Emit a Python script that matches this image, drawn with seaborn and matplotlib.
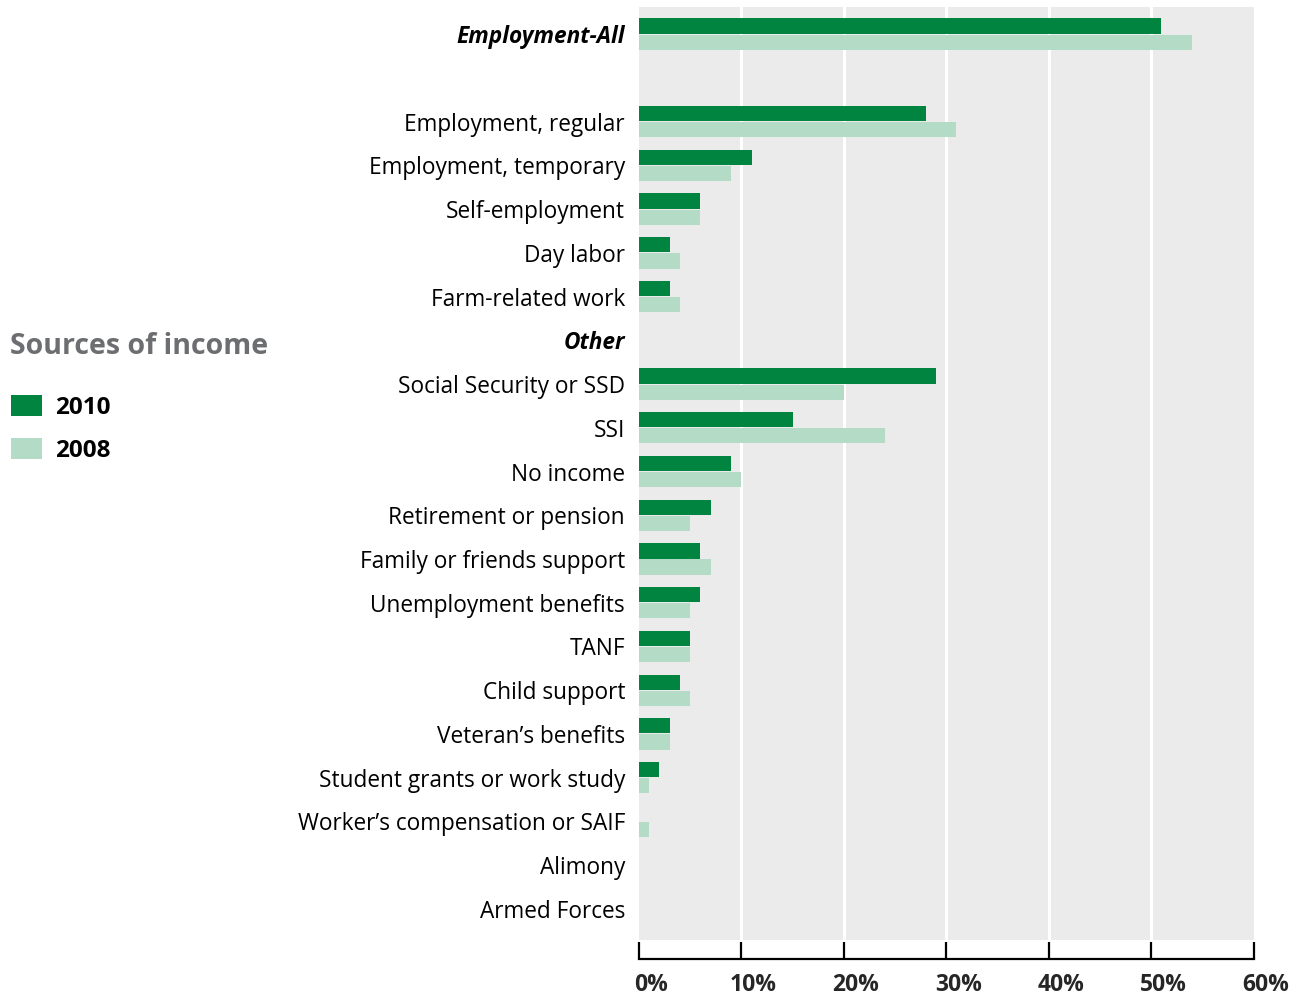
import matplotlib
matplotlib.use("Agg")
import matplotlib.pyplot as plt
import matplotlib.transforms as mtransforms
import seaborn as sns
import pandas as pd

categories = ["Employment-All", " ", "Employment, regular", "Employment, temporary",
              "Self-employment", "Day labor", "Farm-related work", "Other",
              "Social Security or SSD", "SSI", "No income", "Retirement or pension",
              "Family or friends support", "Unemployment benefits", "TANF",
              "Child support", "Veteran\u2019s benefits", "Student grants or work study",
              "Worker\u2019s compensation or SAIF", "Alimony", "Armed Forces"]
values_2010 = [51, 0, 28, 11, 6, 3, 3, 0, 29, 15, 9, 7, 6, 6, 5, 4, 3, 2, 0, 0, 0]
values_2008 = [54, 0, 31, 9, 6, 4, 4, 0, 20, 24, 10, 5, 7, 5, 5, 5, 3, 1, 1, 0, 0]
years = ["2010", "2008"]
xticks = [0, 10, 20, 30, 40, 50, 60]
xtick_labels = ["0%", "10%", "20%", "30%", "40%", "50%", "60%"]

df = pd.DataFrame({
    "category": categories * 2,
    "value": values_2010 + values_2008,
    "year": [years[0]] * len(categories) + [years[1]] * len(categories),
})

sns.set_theme(style="white")
plt.rcParams["font.family"] = ["Open Sans", "DejaVu Sans"]

W, H = 1300, 996
fig = plt.figure(figsize=(13, 9.96), dpi=100)
ax = fig.add_axes([639 / W, 1 - 940 / H, (1253.5 - 639) / W, (940 - 7) / H])
ax.set_facecolor("#ebebeb")

palette = {"2010": "#00843f", "2008": "#b3dbc5"}
sns.barplot(data=df, y="category", x="value", hue="year", order=categories,
            hue_order=years, palette=palette, orient="h", width=0.74, gap=0.06,
            saturation=1, linewidth=0, ax=ax, zorder=3)

ax.set_xlim(0, 60)
ax.set_ylim(20.71, -0.62)
ax.set_xlabel("")
ax.set_ylabel("")

for x in xticks[1:-1]:
    ax.axvline(x, color="white", lw=2.2, zorder=1)

for s in ["top", "right", "left"]:
    ax.spines[s].set_visible(False)
ax.spines["bottom"].set_position(("outward", 13.7))
ax.spines["bottom"].set_color("black")
ax.spines["bottom"].set_linewidth(1.6)
ax.spines["bottom"].set_bounds(0, 60)

ax.set_xticks(xticks)
ax.set_xticklabels(xtick_labels, fontsize=16.5, fontweight="bold")
ax.tick_params(axis="x", bottom=True, direction="in", length=12.2, width=1.6,
               color="black", pad=10)
off = mtransforms.ScaledTranslation(12 / 100, 0, fig.dpi_scale_trans)
for lab in ax.get_xticklabels():
    lab.set_transform(lab.get_transform() + off)

ax.tick_params(axis="y", left=False, length=0, pad=10, labelsize=16.3)
for lab in ax.get_yticklabels():
    lab.set_color("black")
    if lab.get_text() in ("Employment-All", "Other"):
        lab.set_fontweight("bold")
        lab.set_fontstyle("italic")

sns.move_legend(ax, loc="upper left", bbox_to_anchor=(11 / W, 1 - 395 / H),
                bbox_transform=fig.transFigure, frameon=False, title=None,
                fontsize=17.5, handlelength=1.28, handleheight=0.95,
                handletextpad=0.53, labelspacing=0.74, borderpad=0,
                borderaxespad=0)
leg = ax.get_legend()
for t in leg.get_texts():
    t.set_fontweight("bold")
    t.set_color("black")

fig.text(10 / W, 1 - 347 / H, "Sources of income", fontsize=20.5,
         fontweight="bold", color="#6d6e71", ha="left", va="center")

fig.savefig("out.png", dpi=100)
